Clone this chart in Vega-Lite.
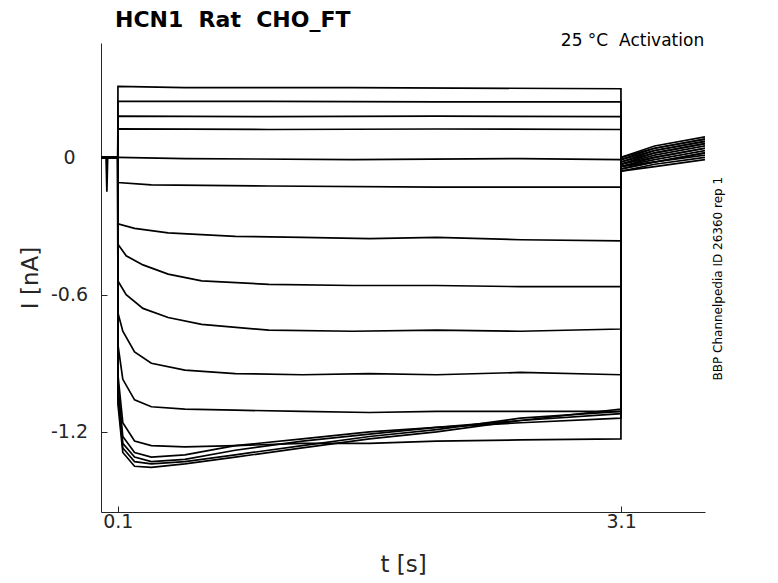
{
"$schema":"https://vega.github.io/schema/vega-lite/v6.json",
"width":604,"height":469,"autosize":"none",
"padding":{"left":101,"top":43,"right":73,"bottom":71},
"background":"white",
"config":{"font":"DejaVu Sans","view":{"stroke":null},
 "axis":{"domainColor":"#262626","tickColor":"#262626","tickSize":-6,"grid":false,"labelFont":"DejaVu Sans","titleFont":"DejaVu Sans","labelFontSize":19,"titleFontSize":23,"titleFontWeight":"normal","labelColor":"#262626","titleColor":"#262626"}},
"title":{"text":"HCN1\u00a0\u00a0Rat\u00a0\u00a0CHO_FT","anchor":"start","frame":"group","dx":14,"offset":0,"fontSize":22,"fontWeight":"bold","font":"DejaVu Sans","color":"black"},
"datasets":{"tr":[
{"s":1,"t":0,"v":0.0},{"s":1,"t":0.1,"v":0.0},{"s":1,"t":0.101,"v":0.31},{"s":1,"t":0.5,"v":0.305},{"s":1,"t":1.5,"v":0.305},{"s":1,"t":3.099,"v":0.3},{"s":1,"t":3.1,"v":0.0},{"s":1,"t":3.3,"v":0.05},{"s":1,"t":3.6,"v":0.09},
{"s":2,"t":0,"v":0.0},{"s":2,"t":0.1,"v":0.0},{"s":2,"t":0.101,"v":0.245},{"s":2,"t":1,"v":0.245},{"s":2,"t":2,"v":0.243},{"s":2,"t":3.099,"v":0.243},{"s":2,"t":3.1,"v":-0.01},{"s":2,"t":3.3,"v":0.04},{"s":2,"t":3.6,"v":0.08},
{"s":3,"t":0,"v":0.0},{"s":3,"t":0.1,"v":0.0},{"s":3,"t":0.101,"v":0.18},{"s":3,"t":1,"v":0.178},{"s":3,"t":2,"v":0.18},{"s":3,"t":3.099,"v":0.178},{"s":3,"t":3.1,"v":-0.02},{"s":3,"t":3.3,"v":0.03},{"s":3,"t":3.6,"v":0.07},
{"s":4,"t":0,"v":0.0},{"s":4,"t":0.1,"v":0.0},{"s":4,"t":0.101,"v":0.125},{"s":4,"t":1,"v":0.122},{"s":4,"t":2,"v":0.124},{"s":4,"t":3.099,"v":0.122},{"s":4,"t":3.1,"v":-0.03},{"s":4,"t":3.3,"v":0.02},{"s":4,"t":3.6,"v":0.06},
{"s":5,"t":0,"v":0.0},{"s":5,"t":0.03,"v":0.0},{"s":5,"t":0.035,"v":-0.15},{"s":5,"t":0.04,"v":0.0},{"s":5,"t":0.1,"v":0.0},{"s":5,"t":0.101,"v":0.0},{"s":5,"t":0.5,"v":-0.005},{"s":5,"t":1.5,"v":-0.01},{"s":5,"t":2.5,"v":-0.005},{"s":5,"t":3.099,"v":-0.01},{"s":5,"t":3.1,"v":-0.03},{"s":5,"t":3.3,"v":0.01},{"s":5,"t":3.6,"v":0.05},
{"s":6,"t":0,"v":0.0},{"s":6,"t":0.1,"v":0.0},{"s":6,"t":0.101,"v":-0.11},{"s":6,"t":0.3,"v":-0.12},{"s":6,"t":1,"v":-0.125},{"s":6,"t":2,"v":-0.13},{"s":6,"t":3.099,"v":-0.13},{"s":6,"t":3.1,"v":-0.04},{"s":6,"t":3.3,"v":0.0},{"s":6,"t":3.6,"v":0.04},
{"s":7,"t":0,"v":0.0},{"s":7,"t":0.1,"v":0.0},{"s":7,"t":0.101,"v":-0.29},{"s":7,"t":0.2,"v":-0.31},{"s":7,"t":0.4,"v":-0.33},{"s":7,"t":0.8,"v":-0.345},{"s":7,"t":1.2,"v":-0.35},{"s":7,"t":1.6,"v":-0.355},{"s":7,"t":2.0,"v":-0.35},{"s":7,"t":2.5,"v":-0.36},{"s":7,"t":3.099,"v":-0.365},{"s":7,"t":3.1,"v":-0.04},{"s":7,"t":3.3,"v":-0.01},{"s":7,"t":3.6,"v":0.03},
{"s":8,"t":0,"v":0.0},{"s":8,"t":0.1,"v":0.0},{"s":8,"t":0.101,"v":-0.38},{"s":8,"t":0.15,"v":-0.43},{"s":8,"t":0.25,"v":-0.47},{"s":8,"t":0.4,"v":-0.51},{"s":8,"t":0.6,"v":-0.54},{"s":8,"t":1.0,"v":-0.555},{"s":8,"t":1.5,"v":-0.56},{"s":8,"t":2.0,"v":-0.56},{"s":8,"t":2.5,"v":-0.565},{"s":8,"t":3.099,"v":-0.565},{"s":8,"t":3.1,"v":-0.05},{"s":8,"t":3.3,"v":-0.02},{"s":8,"t":3.6,"v":0.02},
{"s":9,"t":0,"v":0.0},{"s":9,"t":0.1,"v":0.0},{"s":9,"t":0.101,"v":-0.54},{"s":9,"t":0.15,"v":-0.6},{"s":9,"t":0.25,"v":-0.66},{"s":9,"t":0.4,"v":-0.7},{"s":9,"t":0.6,"v":-0.73},{"s":9,"t":1.0,"v":-0.755},{"s":9,"t":1.5,"v":-0.76},{"s":9,"t":2.0,"v":-0.755},{"s":9,"t":2.5,"v":-0.76},{"s":9,"t":3.099,"v":-0.75},{"s":9,"t":3.1,"v":-0.05},{"s":9,"t":3.3,"v":-0.02},{"s":9,"t":3.6,"v":0.01},
{"s":10,"t":0,"v":0.0},{"s":10,"t":0.1,"v":0.0},{"s":10,"t":0.101,"v":-0.68},{"s":10,"t":0.13,"v":-0.76},{"s":10,"t":0.2,"v":-0.85},{"s":10,"t":0.3,"v":-0.9},{"s":10,"t":0.5,"v":-0.93},{"s":10,"t":0.8,"v":-0.945},{"s":10,"t":1.2,"v":-0.95},{"s":10,"t":1.6,"v":-0.945},{"s":10,"t":2.0,"v":-0.95},{"s":10,"t":2.5,"v":-0.94},{"s":10,"t":3.099,"v":-0.95},{"s":10,"t":3.1,"v":-0.06},{"s":10,"t":3.3,"v":-0.03},{"s":10,"t":3.6,"v":0.0},
{"s":11,"t":0,"v":0.0},{"s":11,"t":0.1,"v":0.0},{"s":11,"t":0.101,"v":-0.82},{"s":11,"t":0.13,"v":-0.97},{"s":11,"t":0.2,"v":-1.06},{"s":11,"t":0.3,"v":-1.09},{"s":11,"t":0.5,"v":-1.1},{"s":11,"t":0.8,"v":-1.105},{"s":11,"t":1.2,"v":-1.11},{"s":11,"t":1.6,"v":-1.115},{"s":11,"t":2.0,"v":-1.11},{"s":11,"t":2.5,"v":-1.11},{"s":11,"t":3.099,"v":-1.11},{"s":11,"t":3.1,"v":-0.06},{"s":11,"t":3.3,"v":-0.04},{"s":11,"t":3.6,"v":-0.01},
{"s":12,"t":0,"v":0.0},{"s":12,"t":0.1,"v":0.0},{"s":12,"t":0.101,"v":-0.95},{"s":12,"t":0.13,"v":-1.16},{"s":12,"t":0.2,"v":-1.24},{"s":12,"t":0.3,"v":-1.26},{"s":12,"t":0.5,"v":-1.265},{"s":12,"t":0.8,"v":-1.26},{"s":12,"t":1.2,"v":-1.25},{"s":12,"t":1.6,"v":-1.25},{"s":12,"t":2.0,"v":-1.24},{"s":12,"t":2.5,"v":-1.235},{"s":12,"t":3.099,"v":-1.23},{"s":12,"t":3.1,"v":-0.04},{"s":12,"t":3.3,"v":-0.02},{"s":12,"t":3.6,"v":0.02},
{"s":13,"t":0,"v":0.0},{"s":13,"t":0.1,"v":0.0},{"s":13,"t":0.101,"v":-1.0},{"s":13,"t":0.13,"v":-1.22},{"s":13,"t":0.2,"v":-1.29},{"s":13,"t":0.3,"v":-1.31},{"s":13,"t":0.5,"v":-1.3},{"s":13,"t":0.8,"v":-1.26},{"s":13,"t":1.2,"v":-1.23},{"s":13,"t":1.6,"v":-1.2},{"s":13,"t":2.0,"v":-1.18},{"s":13,"t":2.5,"v":-1.16},{"s":13,"t":3.099,"v":-1.14},{"s":13,"t":3.1,"v":-0.03},{"s":13,"t":3.3,"v":0.0},{"s":13,"t":3.6,"v":0.04},
{"s":14,"t":0,"v":0.0},{"s":14,"t":0.1,"v":0.0},{"s":14,"t":0.101,"v":-1.02},{"s":14,"t":0.13,"v":-1.25},{"s":14,"t":0.2,"v":-1.31},{"s":14,"t":0.3,"v":-1.33},{"s":14,"t":0.5,"v":-1.32},{"s":14,"t":0.8,"v":-1.28},{"s":14,"t":1.2,"v":-1.24},{"s":14,"t":1.6,"v":-1.21},{"s":14,"t":2.0,"v":-1.18},{"s":14,"t":2.5,"v":-1.15},{"s":14,"t":3.099,"v":-1.12},{"s":14,"t":3.1,"v":-0.02},{"s":14,"t":3.3,"v":0.02},{"s":14,"t":3.6,"v":0.06},
{"s":15,"t":0,"v":0.0},{"s":15,"t":0.1,"v":0.0},{"s":15,"t":0.101,"v":-1.05},{"s":15,"t":0.13,"v":-1.27},{"s":15,"t":0.2,"v":-1.33},{"s":15,"t":0.3,"v":-1.34},{"s":15,"t":0.5,"v":-1.33},{"s":15,"t":0.8,"v":-1.3},{"s":15,"t":1.2,"v":-1.26},{"s":15,"t":1.6,"v":-1.22},{"s":15,"t":2.0,"v":-1.19},{"s":15,"t":2.5,"v":-1.14},{"s":15,"t":3.099,"v":-1.11},{"s":15,"t":3.1,"v":-0.01},{"s":15,"t":3.3,"v":0.03},{"s":15,"t":3.6,"v":0.07},
{"s":16,"t":0,"v":0.0},{"s":16,"t":0.1,"v":0.0},{"s":16,"t":0.101,"v":-1.08},{"s":16,"t":0.13,"v":-1.29},{"s":16,"t":0.2,"v":-1.35},{"s":16,"t":0.3,"v":-1.355},{"s":16,"t":0.5,"v":-1.34},{"s":16,"t":0.8,"v":-1.31},{"s":16,"t":1.2,"v":-1.27},{"s":16,"t":1.6,"v":-1.23},{"s":16,"t":2.0,"v":-1.2},{"s":16,"t":2.5,"v":-1.15},{"s":16,"t":3.099,"v":-1.1},{"s":16,"t":3.1,"v":0.0},{"s":16,"t":3.3,"v":0.04},{"s":16,"t":3.6,"v":0.08}
]},
"layer":[
{"data":{"name":"tr"},"mark":{"type":"line","color":"black","strokeWidth":1.7,"clip":true},
 "encoding":{
  "x":{"field":"t","type":"quantitative","scale":{"domain":[0,3.6],"nice":false,"zero":false},
       "axis":{"values":[0.1,3.1],"labelExpr":"datum.value==0.1?'0.1':'3.1'","title":"t [s]","labelPadding":6,"titlePadding":22}},
  "y":{"field":"v","type":"quantitative","scale":{"domain":[-1.55,0.5],"nice":false,"zero":false},
       "axis":{"values":[-1.2,-0.6,0],"labelExpr":"datum.value==0?'0':replace(format(datum.value,'.1f'),'\u2212','-')","labelAlign":"center","title":"I [nA]","labelPadding":38,"titlePadding":8}},
  "detail":{"field":"s","type":"nominal"},
  "order":{"field":"t","type":"quantitative"}}},
{"data":{"values":[{"a":1}]},"mark":{"type":"text","align":"right","baseline":"middle","fontSize":17,"font":"DejaVu Sans","color":"black","text":"25 °C\u00a0\u00a0Activation","clip":false},
 "encoding":{"x":{"datum":3.595,"type":"quantitative"},"y":{"datum":0.51,"type":"quantitative"}}},
{"data":{"values":[{"a":1}]},"mark":{"type":"text","align":"center","baseline":"middle","angle":270,"fontSize":12,"font":"DejaVu Sans","color":"black","text":"BBP Channelpedia ID 26360 rep 1","clip":false},
 "encoding":{"x":{"datum":3.68,"type":"quantitative"},"y":{"datum":-0.53,"type":"quantitative"}}}
]}
